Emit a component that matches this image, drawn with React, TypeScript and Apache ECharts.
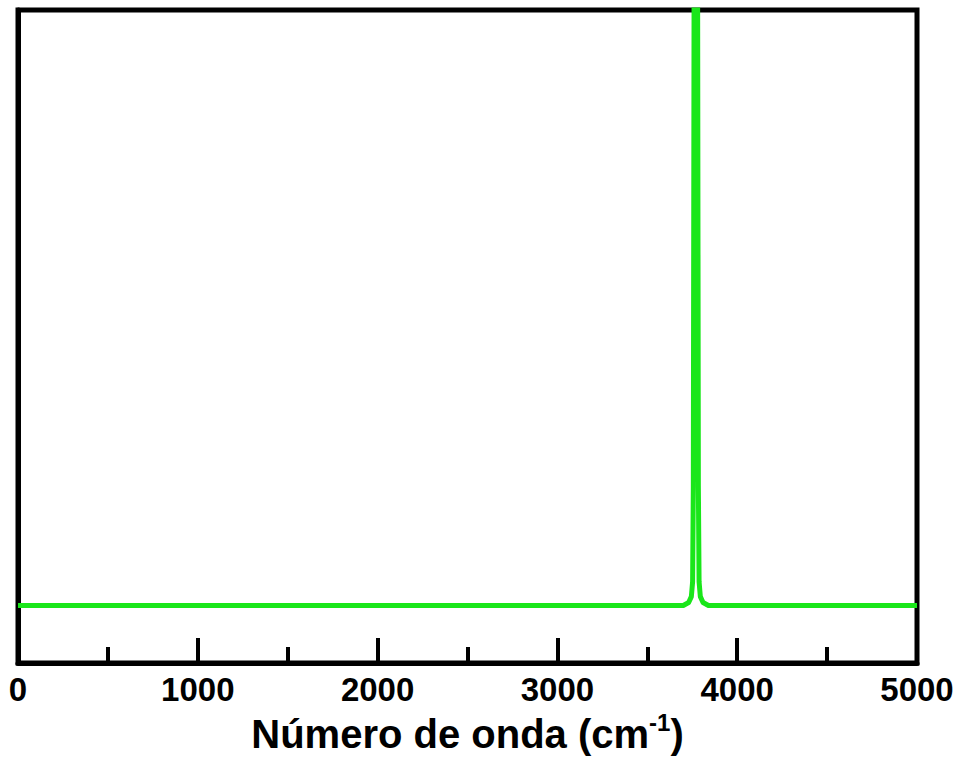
import React, { useEffect, useRef } from "react";
import * as echarts from "echarts";

// Wavenumber (cm^-1) and intensity (arbitrary units)
const wavenumbers = [0, 1000, 2000, 3000, 3600, 3700, 3730, 3745, 3752, 3756, 3760, 3770, 3780, 3784, 3788, 3795, 3810, 3840, 4000, 5000];
const intensity = [0, 0, 0, 0, 0, 0, 0.5, 1.5, 4, 20, 100, 500, 100, 20, 4, 1.5, 0.5, 0, 0, 0];

const xMin = 0;
const xMax = 5000;
const xInterval = 1000;
const yMin = -9.65;
const yMax = 100;

const FONT = "'Liberation Sans', Arial, Helvetica, sans-serif";
const GREEN = "#1ae61a";

export default function App() {
  const ref = useRef<HTMLDivElement>(null);
  useEffect(() => {
    if (!ref.current) return;
    const chart = echarts.init(ref.current, undefined, { renderer: "svg" });
    const data = wavenumbers.map((x, i) => [x, intensity[i]]);
    chart.setOption({
      animation: false,
      backgroundColor: "#ffffff",
      grid: {
        left: 18,
        right: 46,
        top: 10,
        bottom: 97,
        show: true,
        borderColor: "#000",
        borderWidth: 5,
        backgroundColor: "transparent",
      },
      xAxis: {
        type: "value",
        min: xMin,
        max: xMax,
        interval: xInterval,
        name: "{a|Número de onda (cm}{s|-1}{a|)}",
        nameLocation: "middle",
        nameGap: 46,
        nameTextStyle: {
          rich: {
            a: { fontSize: 40, lineHeight: 46, fontWeight: "bold", fontFamily: FONT, color: "#000" },
            s: { fontSize: 24, lineHeight: 16, fontWeight: "bold", fontFamily: FONT, color: "#000", verticalAlign: "top" },
          },
        },
        axisLine: { show: true, onZero: false, lineStyle: { color: "#000", width: 5 } },
        axisTick: { show: true, inside: true, length: 25, lineStyle: { color: "#000", width: 4 } },
        minorTick: { show: true, splitNumber: 2, length: 16, lineStyle: { color: "#000", width: 4 } },
        splitLine: { show: false },
        minorSplitLine: { show: false },
        axisLabel: {
          show: true,
          fontSize: 33,
          fontWeight: "bold",
          fontFamily: FONT,
          color: "#000",
          margin: 10,
          formatter: (v: number) => String(v),
        },
      },
      yAxis: {
        type: "value",
        min: yMin,
        max: yMax,
        axisLine: { show: true, onZero: false, lineStyle: { color: "#000", width: 5 } },
        axisTick: { show: false },
        axisLabel: { show: false },
        splitLine: { show: false },
      },
      series: [
        {
          type: "line",
          data,
          showSymbol: false,
          symbol: "none",
          clip: true,
          lineStyle: { color: GREEN, width: 5, join: "round" },
        },
      ],
    });
    return () => chart.dispose();
  }, []);
  return (
    <div
      ref={ref}
      style={{ position: "fixed", left: 0, top: 0, width: 963, height: 760, background: "#fff" }}
    />
  );
}
